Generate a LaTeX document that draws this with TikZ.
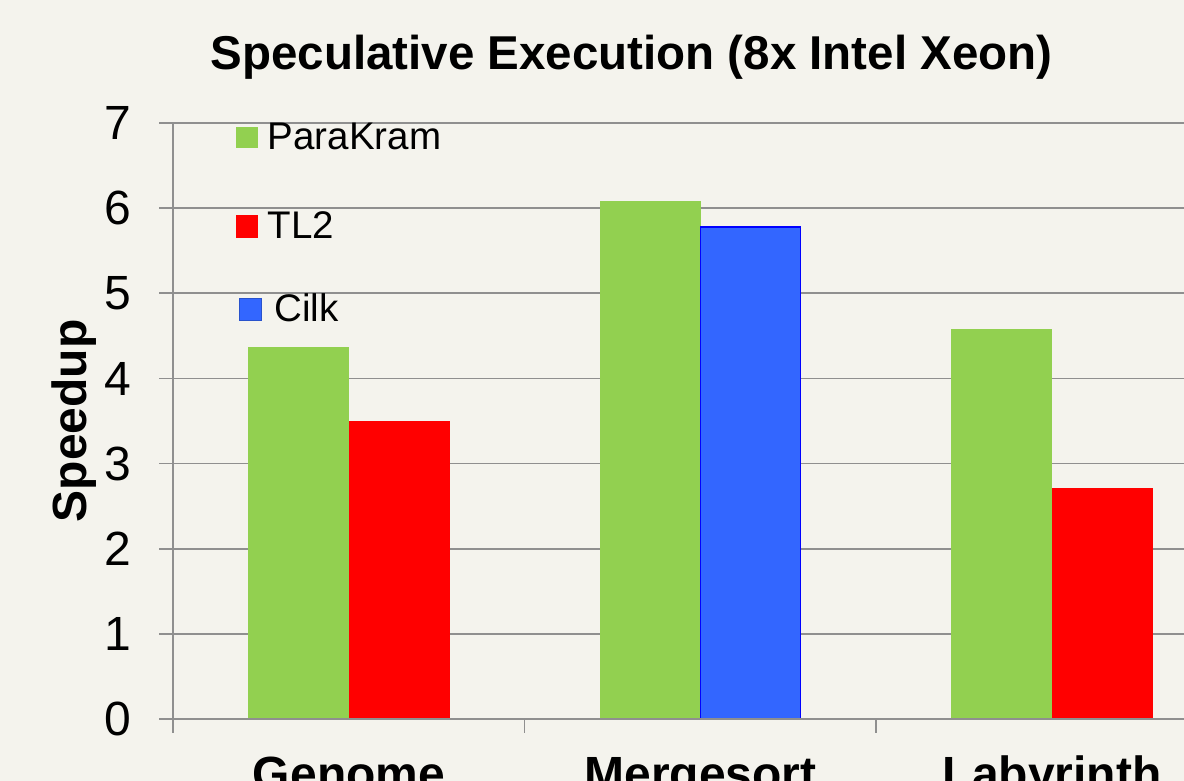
\documentclass[tikz,border=0pt]{standalone}
\usepackage{fontspec}
\setmainfont{Liberation Sans}
\usetikzlibrary{calc}
\definecolor{bgcol}{HTML}{F4F3ED}
\definecolor{gridcol}{HTML}{8F8F8F}
\definecolor{pkgreen}{HTML}{92D050}
\definecolor{tlred}{HTML}{FF0000}
\definecolor{cilkblue}{HTML}{3366FF}

\begin{document}
\begin{tikzpicture}[x=1pt,y=1pt,
    gridline/.style={draw=gridcol,line width=1.6pt},
    ticklabel/.style={anchor=east,inner sep=0pt,font=\fontsize{48}{48}\selectfont},
    catlabel/.style={anchor=base,inner sep=0pt,font=\fontsize{48}{48}\selectfont\bfseries},
    keylabel/.style={anchor=base west,inner sep=0pt,font=\fontsize{38.5}{38.5}\selectfont}]
    \fill[bgcol] (0,0) rectangle (1184,781);
    \useasboundingbox (0,0) rectangle (1184,781);
    \node[anchor=base,inner sep=0pt,font=\fontsize{47.5}{47.5}\selectfont\bfseries] (title) at (631.5,711)
        {Speculative Execution (8x Intel Xeon)};
    \node[anchor=base,rotate=90,inner sep=0pt,font=\fontsize{48}{48}\selectfont\bfseries] (ylabel) at (86,360)
        {Speedup};
    \begin{scope}[shift={(0,61.7)},y=85.2pt]
        \foreach \k in {1,...,7}
        \draw[gridline] (159,\k) -- (1184,\k);
        \foreach \k in {0,...,7}
        \node[ticklabel] (tick\k) at (131,\k) {\k};
        \foreach \x/\v/\c in {247.5/4.37/pkgreen, 348.5/3.50/tlred,
            599.5/6.08/pkgreen, 950.8/4.585/pkgreen, 1051.8/2.71/tlred}
        \fill[\c] (\x,0) rectangle ++(101,\v);
        \filldraw[fill=cilkblue,draw=blue,line width=1.8pt] (700.5,0) rectangle ++(100,5.78);
        \draw[gridline] (159,0) -- (1184,0);
        \draw[gridline] (173,7) -- (173,-0.16);
        \foreach \x in {524.3,875.7}
        \draw[gridline] (\x,0) -- (\x,-0.16);
        \node[catlabel] (genome) at (349,-0.83) {Genome};
        \node[catlabel] (mergesort) at (700.5,-0.83) {Mergesort};
        \node[catlabel] (labyrinth) at (1052,-0.83) {Labyrinth};
    \end{scope}
    \fill[pkgreen] (236.3,632.7) rectangle (258,654.3);
    \node[keylabel] (kpara) at (267.7,631) {ParaKram};
    \fill[tlred] (236.2,543.3) rectangle (258.2,566);
    \node[keylabel] (ktl) at (267.7,542.7) {TL2};
    \filldraw[fill=cilkblue,draw=cilkblue!80!black,line width=0.8pt] (239.5,460.5) rectangle (261.5,483);
    \node[keylabel] (kcilk) at (274.3,459.3) {Cilk};
\end{tikzpicture}
\end{document}
